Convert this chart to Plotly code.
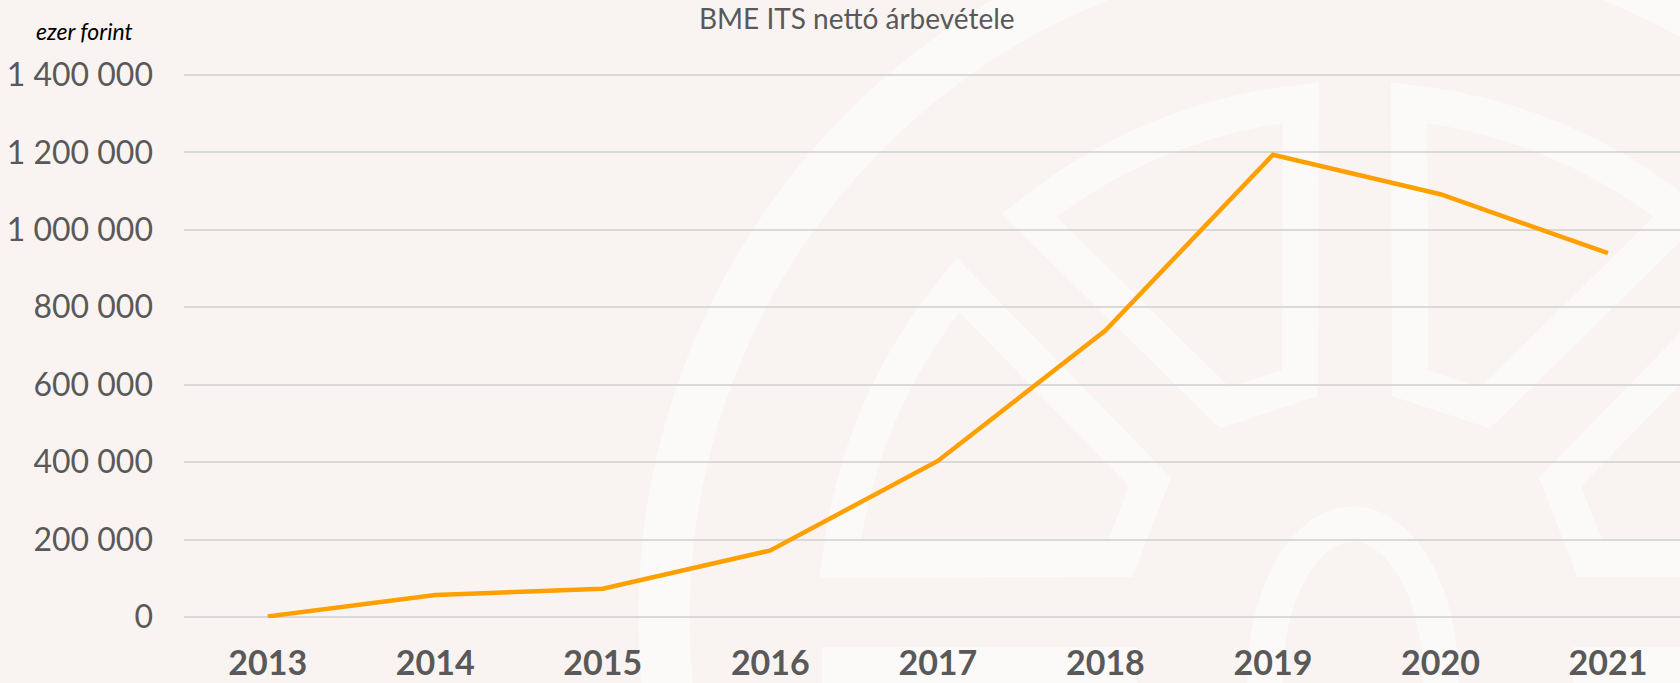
import math
import plotly.graph_objects as go

# ---- data ----
years = [2013, 2014, 2015, 2016, 2017, 2018, 2019, 2020, 2021]
revenue = [1500, 57000, 73000, 172000, 403000, 740000, 1194000, 1092000, 940000]
y_tickvals = [0, 200000, 400000, 600000, 800000, 1000000, 1200000, 1400000]
y_ticktext = ["0", "200 000", "400 000", "600 000", "800 000", "1 000 000", "1 200 000", "1 400 000"]
x_ticktext = [str(y) for y in years]
title_text = "BME ITS nettó árbevétele"
unit_text = "ezer forint"

W, H = 1680, 683
ML, MR, MT, MB = 184, 0, 74, 65
PW = W - ML - MR
PH = H - MT - MB

def px(x):
    return (x - ML) / PW

def py(y):
    return (H - MB - y) / PH

BG = "#F9F4F2"
WM = "rgba(255,255,255,0.55)"

fig = go.Figure()
fig.add_trace(go.Scatter(
    x=years, y=revenue, mode="lines",
    line=dict(color="#FF9F00", width=4.5),
    hoverinfo="x+y", showlegend=False,
))

# ---- faint background logo (decoration) ----
LCX, LCY = 1355, 618
shapes = []
R_ring = 691
shapes.append(dict(type="circle", xref="paper", yref="paper",
                   x0=px(LCX - R_ring), x1=px(LCX + R_ring), y0=py(LCY + R_ring), y1=py(LCY - R_ring),
                   line=dict(color=WM, width=51), fillcolor="rgba(0,0,0,0)", layer="below"))
ox, oy, orx, ory = 1353, 680, 88, 156
shapes.append(dict(type="circle", xref="paper", yref="paper",
                   x0=px(ox - orx), x1=px(ox + orx), y0=py(oy + ory), y1=py(oy - ory),
                   line=dict(color=WM, width=35), fillcolor="rgba(0,0,0,0)", layer="below"))

def arc(r, a0, a1, n=14):
    pts = []
    for i in range(n + 1):
        a = math.radians(a0 + (a1 - a0) * i / n)
        pts.append((LCX + r * math.cos(a), LCY - r * math.sin(a)))
    return pts

def mirror(pts):
    return [(2 * LCX - x, y) for x, y in pts]

def path_from(pts):
    return "M " + " L ".join(f"{px(x):.5f},{py(y):.5f}" for x, y in pts) + " Z"

RS = 518
seg_ul = arc(RS, 96, 129) + [(1225, 408), (1300, 383)]
seg_ll = arc(RS, 140, 173.5) + [(1120, 559), (1150, 482)]
segments = [seg_ul, mirror(seg_ul), seg_ll, mirror(seg_ll)]
for seg in segments:
    shapes.append(dict(type="path", xref="paper", yref="paper", path=path_from(seg),
                       line=dict(color=WM, width=36), fillcolor="rgba(0,0,0,0)", layer="below"))
for x0, x1 in [(822, 1137), (2 * LCX - 1137, 2 * LCX - 822)]:
    shapes.append(dict(type="rect", xref="paper", yref="paper",
                       x0=px(x0), x1=px(x1), y0=py(700), y1=py(647),
                       line=dict(width=0), fillcolor=WM, layer="below"))

fig.update_layout(
    width=W, height=H,
    margin=dict(l=ML, r=MR, t=MT, b=MB, pad=0, autoexpand=False),
    paper_bgcolor=BG, plot_bgcolor="rgba(0,0,0,0)",
    font=dict(family="Lato, 'Open Sans', sans-serif", color="#595959"),
    shapes=shapes,
    xaxis=dict(
        range=[2012.5, 2021.43], tickmode="array", tickvals=years, ticktext=x_ticktext,
        showgrid=False, zeroline=False, showline=False, ticks="", automargin=False,
        tickfont=dict(family="Lato", size=34, color="#595959", weight="bold"),
        ticklabelstandoff=22, fixedrange=True,
    ),
    yaxis=dict(
        range=[-2600, 1402600], tickmode="array", tickvals=y_tickvals, ticktext=y_ticktext,
        showgrid=True, gridcolor="#D9D9D9", gridwidth=1.5, zeroline=False, showline=False,
        ticks="", automargin=False, tickfont=dict(family="Lato", size=32, color="#595959"),
        ticklabelstandoff=30, fixedrange=True,
    ),
    annotations=[
        dict(text=title_text, xref="paper", yref="paper", x=px(857), y=py(18),
             xanchor="center", yanchor="middle", showarrow=False,
             font=dict(family="Lato", size=28, color="#595959")),
        dict(text=f"<i>{unit_text}</i>", xref="paper", yref="paper", x=px(84), y=py(31),
             xanchor="center", yanchor="middle", showarrow=False,
             font=dict(family="Lato", size=23, color="#000000")),
    ],
)

fig.write_html("out.html", config={"displayModeBar": False},
               post_script="document.body.style.margin='0';document.body.style.overflow='hidden';")
